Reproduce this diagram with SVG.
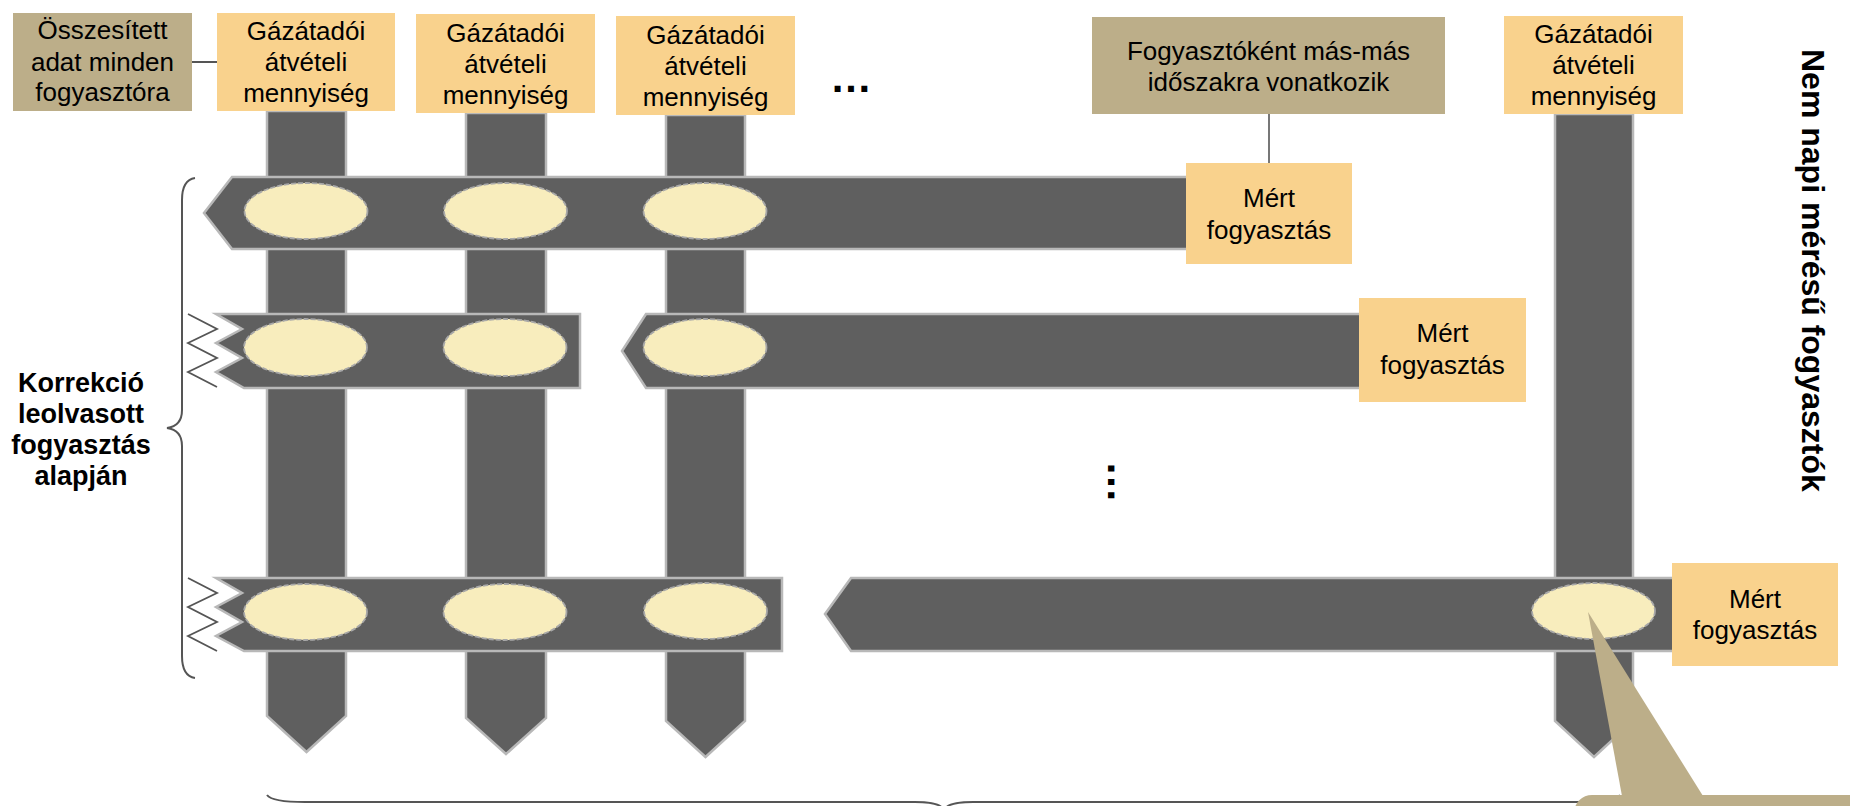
<svg xmlns="http://www.w3.org/2000/svg" width="1850" height="806" viewBox="0 0 1850 806">
<style>
text{font-family:"Liberation Sans",Arial,sans-serif;fill:#000}
.t{font-size:26px;text-anchor:middle}
.b{font-weight:bold}
.tan{fill:#BCAE89}
.org{fill:#F9D28D}
.bar{fill:#5F5F5F;stroke:#B8B8B8;stroke-width:2.5}
.ell{fill:#F8EDBD;stroke:#A8A8A8;stroke-width:1.8;stroke-dasharray:5 2}
.ln{fill:none;stroke:#555;stroke-width:2}
.br{fill:none;stroke:#555;stroke-width:2}
</style>
<rect width="1850" height="806" fill="#fff"/>

<g id="bars">
<polygon class="bar" points="267,111 346,111 346,716 306.5,752 267,716"/>
<polygon class="bar" points="466,113 546,113 546,718 506,754 466,718"/>
<polygon class="bar" points="666,115 745,115 745,721 705.5,757 666,721"/>
<polygon class="bar" points="1555,114 1633,114 1633,721 1594,757 1555,721"/>
</g>

<g id="bands">
<polygon class="bar" points="204,213 232,177 1192,177 1192,249 232,249"/>
<polygon class="bar" points="216,314 580,314 580,388 244,388 216,372 242,358 216,343 242,329"/>
<polyline class="ln" points="188,314 217,329 188,343 217,358 188,372 217,387" style="stroke-width:1.8"/>
<polygon class="bar" points="622,351 646,314 1365,314 1365,388 646,388"/>
<polygon class="bar" points="216,578 782,578 782,651 244,651 216,636 242,622 216,607 242,593"/>
<polyline class="ln" points="188,578 217,593 188,607 217,622 188,636 217,651" style="stroke-width:1.8"/>
<polygon class="bar" points="825,614 851,578 1676,578 1676,651 851,651"/>
</g>

<g id="points">
<ellipse class="ell" cx="306" cy="211" rx="61.5" ry="28"/>
<ellipse class="ell" cx="505.5" cy="211" rx="61.5" ry="28"/>
<ellipse class="ell" cx="705" cy="211" rx="61.5" ry="28"/>
<ellipse class="ell" cx="305.5" cy="347.5" rx="61.5" ry="28.5"/>
<ellipse class="ell" cx="505" cy="347.5" rx="61.5" ry="28.5"/>
<ellipse class="ell" cx="705" cy="347.5" rx="61.5" ry="28.5"/>
<ellipse class="ell" cx="305.5" cy="612" rx="61.5" ry="28"/>
<ellipse class="ell" cx="505" cy="612" rx="61.5" ry="28"/>
<ellipse class="ell" cx="705.5" cy="611" rx="61.5" ry="28"/>
<ellipse class="ell" cx="1593.5" cy="611" rx="61.5" ry="28"/>
</g>

<g id="connectors">
<line class="ln" x1="192" y1="62" x2="217" y2="62"/>
<line class="ln" x1="1269" y1="114" x2="1269" y2="163" style="stroke-width:1.6"/>
</g>

<g id="summary">
<rect class="tan" x="13" y="13" width="179" height="98"/>
<text class="t" x="102.5" y="39">Összesített</text>
<text class="t" x="102.5" y="71">adat minden</text>
<text class="t" x="102.5" y="101">fogyasztóra</text>
</g>

<g id="gt1">
<rect class="org" x="217" y="13" width="178" height="98"/>
<text class="t" x="306" y="40">Gázátadói</text>
<text class="t" x="306" y="71">átvételi</text>
<text class="t" x="306" y="102">mennyiség</text>
</g>
<g id="gt2">
<rect class="org" x="416" y="14" width="179" height="99"/>
<text class="t" x="505.5" y="42">Gázátadói</text>
<text class="t" x="505.5" y="73">átvételi</text>
<text class="t" x="505.5" y="104">mennyiség</text>
</g>
<g id="gt3">
<rect class="org" x="616" y="16" width="179" height="99"/>
<text class="t" x="705.5" y="44">Gázátadói</text>
<text class="t" x="705.5" y="75">átvételi</text>
<text class="t" x="705.5" y="106">mennyiség</text>
</g>
<g id="gt4">
<rect class="org" x="1504" y="16" width="179" height="98"/>
<text class="t" x="1593.5" y="43">Gázátadói</text>
<text class="t" x="1593.5" y="74">átvételi</text>
<text class="t" x="1593.5" y="105">mennyiség</text>
</g>

<g id="ellipsis-h">
<text class="b" x="851" y="92" style="font-size:42px;text-anchor:middle">…</text>
</g>
<g id="ellipsis-v">
<text class="b" transform="translate(1111,482) rotate(90)" x="0" y="3" style="font-size:42px;text-anchor:middle">…</text>
</g>

<g id="note">
<rect class="tan" x="1092" y="17" width="353" height="97"/>
<text class="t" x="1268.5" y="60">Fogyasztóként más-más</text>
<text class="t" x="1268.5" y="91">időszakra vonatkozik</text>
</g>

<g id="mert1">
<rect class="org" x="1186" y="163" width="166" height="101"/>
<text class="t" x="1269" y="207">Mért</text>
<text class="t" x="1269" y="239">fogyasztás</text>
</g>
<g id="mert2">
<rect class="org" x="1359" y="298" width="167" height="104"/>
<text class="t" x="1442.5" y="342">Mért</text>
<text class="t" x="1442.5" y="374">fogyasztás</text>
</g>
<g id="mert3">
<rect class="org" x="1672" y="563" width="166" height="103"/>
<text class="t" x="1755" y="608">Mért</text>
<text class="t" x="1755" y="639">fogyasztás</text>
</g>

<g id="brace-left">
<path class="br" d="M195,178 Q182,180 182,200 L182,410 Q182,426 167,428 Q182,430 182,446 L182,656 Q182,676 195,678"/>
</g>
<g id="label-left">
<text class="t b" x="81" y="392" style="font-size:27px">Korrekció</text>
<text class="t b" x="81" y="423" style="font-size:27px">leolvasott</text>
<text class="t b" x="81" y="454" style="font-size:27px">fogyasztás</text>
<text class="t b" x="81" y="485" style="font-size:27px">alapján</text>
</g>

<g id="brace-bottom">
<path class="br" d="M267,795 Q272,802 305,802 L915,802 Q944,802 944,812 Q944,802 973,802 L1590,802 Q1615,802 1620,795"/>
</g>

<g id="label-right">
<text class="b" transform="translate(1802,49) rotate(90)" x="0" y="0" style="font-size:32px">Nem napi mérésű fogyasztók</text>
</g>

<g id="callout">
<polygon class="tan" points="1588,612 1703,796 1622,796"/>
<rect class="tan" x="1574" y="795" width="320" height="60" rx="18"/>
</g>
</svg>
